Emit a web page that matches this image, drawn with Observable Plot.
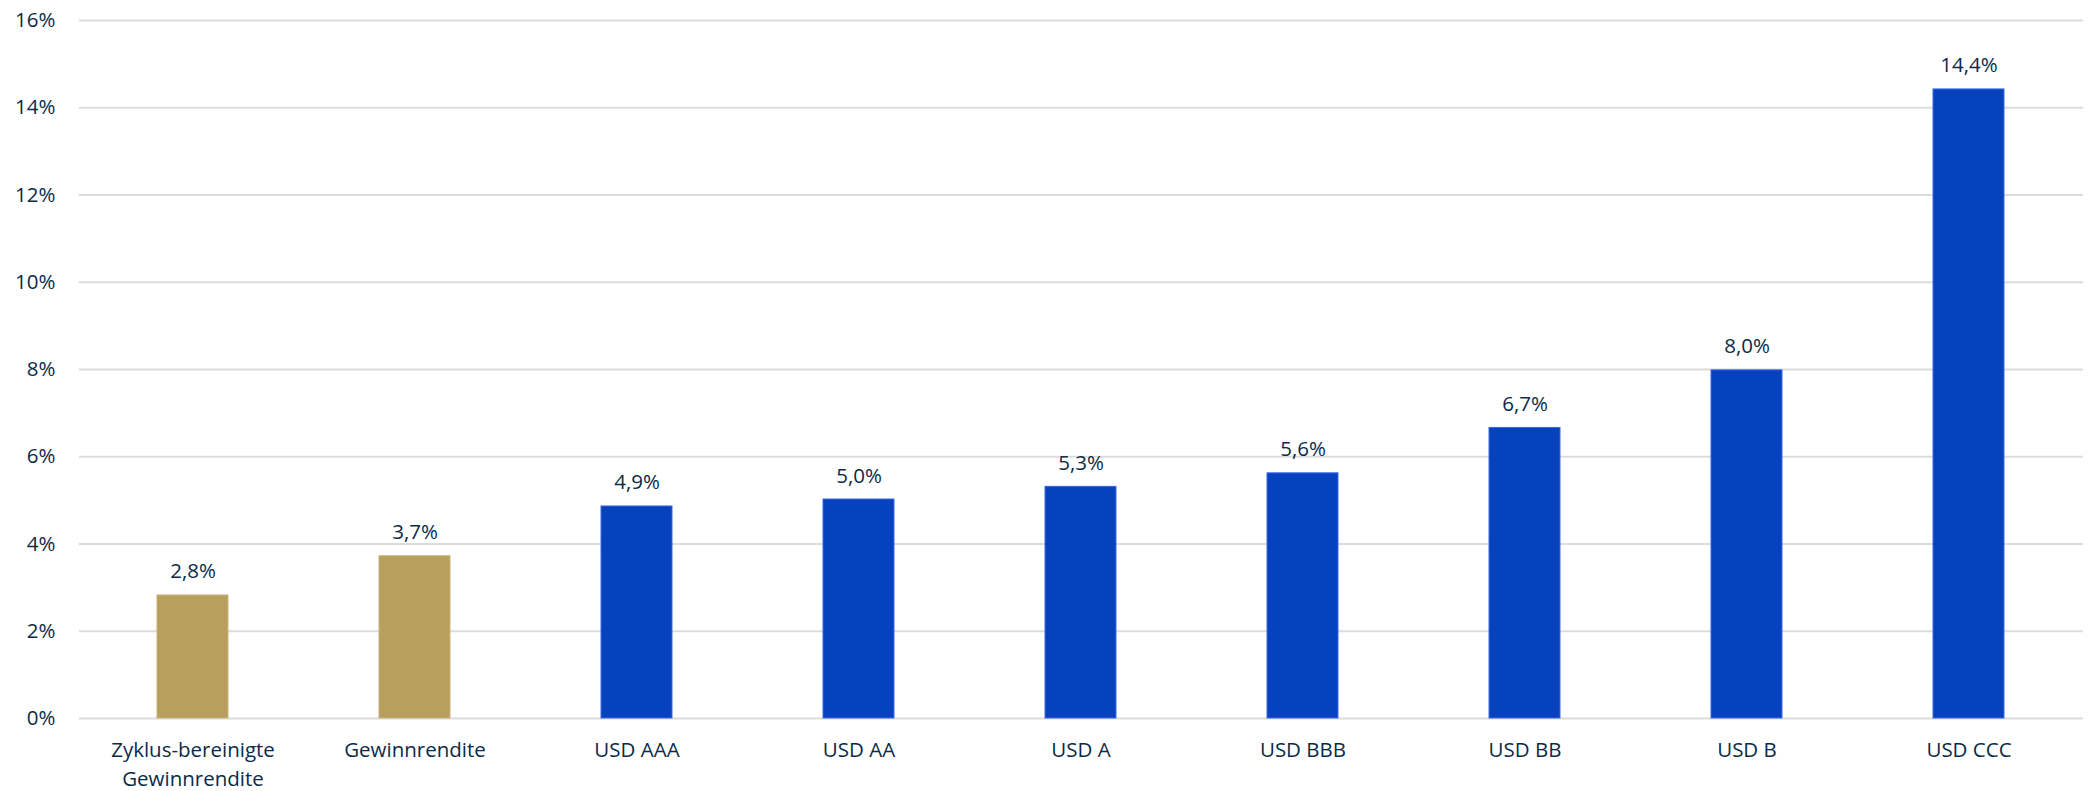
<!DOCTYPE html>
<html>
<head>
<meta charset="utf-8">
<script src="https://cdn.jsdelivr.net/npm/d3@7"></script>
<script src="https://cdn.jsdelivr.net/npm/@observablehq/plot@0.6"></script>
<style>
  html, body { margin: 0; padding: 0; background: #ffffff; }
  #chart svg { display: block; }
</style>
</head>
<body>
<div id="chart"></div>
<script>
const categories = ["Zyklus-bereinigte\nGewinnrendite", "Gewinnrendite", "USD AAA", "USD AA", "USD A", "USD BBB", "USD BB", "USD B", "USD CCC"];
const values = [2.82, 3.72, 4.86, 5.02, 5.31, 5.62, 6.66, 7.98, 14.42];
const groups = ["Aktien", "Aktien", "Anleihen", "Anleihen", "Anleihen", "Anleihen", "Anleihen", "Anleihen", "Anleihen"];
const yTicks = [0, 2, 4, 6, 8, 10, 12, 14, 16];

const data = categories.map((c, i) => ({ category: c, value: values[i], group: groups[i] }));
const fmt = v => v.toFixed(1).replace(".", ",") + "%";
const textColor = "#0b2b48";

const chart = Plot.plot({
  width: 2090,
  height: 791,
  marginLeft: 79,
  marginRight: 7,
  marginTop: 20,
  marginBottom: 73,
  style: { fontFamily: "'Open Sans', sans-serif", color: textColor, background: "#ffffff" },
  x: { domain: categories, paddingInner: 0.68, paddingOuter: 0.34, axis: null },
  y: { domain: [0, 16], axis: null },
  color: { domain: ["Aktien", "Anleihen"], range: ["#b89f5d", "#0641be"] },
  marks: [
    Plot.ruleY(yTicks, { y: d => d, stroke: "#dcdcdc", strokeWidth: 2 }),
    Plot.barY(data, { x: "category", y: "value", fill: "group", stroke: d => d.group === "Aktien" ? "#c9b47c" : "#3a6ae0", strokeWidth: 1 }),
    Plot.text(data, { x: "category", y: "value", text: d => fmt(d.value), lineAnchor: "bottom", dy: -17, fontSize: 20.5, fill: textColor }),
    Plot.text(yTicks, { y: d => d, text: d => d + "%", frameAnchor: "left", textAnchor: "end", dx: -24, fontSize: 20.5, fill: textColor }),
    Plot.text(data, { x: "category", text: "category", frameAnchor: "bottom", lineAnchor: "top", dy: 19, lineHeight: 1.37, fontSize: 20.5, fill: textColor })
  ]
});
document.getElementById("chart").appendChild(chart);
</script>
</body>
</html>
